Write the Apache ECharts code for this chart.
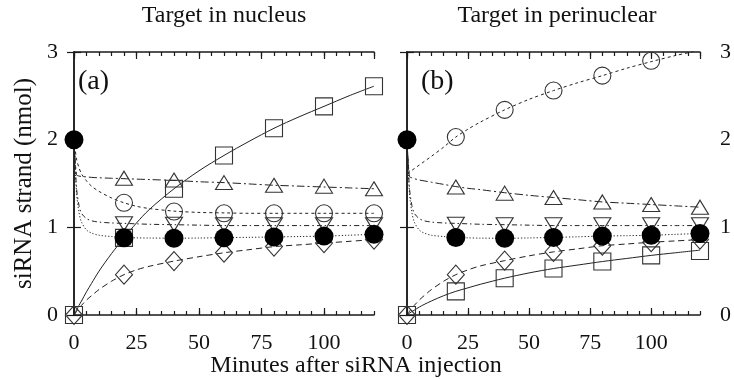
<!DOCTYPE html>
<html>
<head>
<meta charset="utf-8">
<script src="https://cdn.jsdelivr.net/npm/echarts@6/dist/echarts.min.js"></script>
<style>
  html, body { margin: 0; padding: 0; background: #fff; }
  #main { width: 734px; height: 379px; }
</style>
</head>
<body>
<div id="main"></div>
<script>
// minutes where the markers are drawn
var markT = [0, 20, 40, 60, 80, 100, 120];
var curveT = [0, 1, 2, 3, 5, 7, 10, 15, 20, 25, 30, 40, 50, 60, 70, 80, 90, 100, 110, 120];

var xTicks = [0, 25, 50, 75, 100];
var yTicks = [0, 1, 2, 3];

// (a) target in nucleus
var aSquare  = [0, 0.88, 1.44, 1.82, 2.13, 2.38, 2.61];
var aDiamond = [0, 0.46, 0.615, 0.71, 0.78, 0.82, 0.86];
var aCircle  = [null, 1.28, 1.18, 1.16, 1.16, 1.16, 1.16];
var aTri     = [null, 1.56, 1.54, 1.51, 1.48, 1.47, 1.44];
var aInv     = [null, 1.04, 1.035, 1.03, 1.03, 1.03, 1.03];
var aFilled  = [2, 0.88, 0.875, 0.88, 0.89, 0.9, 0.92];

var aSquareLine  = [0, 0.055, 0.11, 0.16, 0.265, 0.36, 0.5, 0.7, 0.88, 1.05, 1.2, 1.44, 1.645, 1.82, 1.98, 2.13, 2.26, 2.38, 2.5, 2.61];
var aDiamondLine = [0, 0.04, 0.08, 0.11, 0.17, 0.22, 0.29, 0.385, 0.46, 0.515, 0.555, 0.615, 0.665, 0.71, 0.745, 0.78, 0.8, 0.82, 0.84, 0.86];
var aCircleLine  = [2, 1.78, 1.68, 1.61, 1.53, 1.47, 1.41, 1.335, 1.28, 1.24, 1.215, 1.185, 1.17, 1.165, 1.16, 1.16, 1.16, 1.16, 1.16, 1.16];
var aTriLine     = [2, 1.6, 1.585, 1.58, 1.575, 1.57, 1.565, 1.56, 1.555, 1.55, 1.545, 1.535, 1.52, 1.51, 1.495, 1.48, 1.47, 1.46, 1.45, 1.44];
var aInvLine     = [2, 1.45, 1.25, 1.16, 1.1, 1.075, 1.06, 1.05, 1.045, 1.04, 1.035, 1.03, 1.025, 1.02, 1.02, 1.02, 1.02, 1.02, 1.02, 1.02];
var aFilledLine  = [2, 1.4, 1.17, 1.06, 0.97, 0.935, 0.91, 0.895, 0.885, 0.88, 0.878, 0.876, 0.878, 0.882, 0.886, 0.89, 0.895, 0.9, 0.91, 0.92];

// (b) target in perinuclear
var bSquare  = [0, 0.27, 0.42, 0.53, 0.61, 0.68, 0.73];
var bDiamond = [0, 0.46, 0.62, 0.72, 0.79, 0.83, 0.86];
var bCircle  = [null, 2.03, 2.34, 2.56, 2.73, 2.9, 3.02];
var bTri     = [null, 1.46, 1.39, 1.34, 1.29, 1.26, 1.23];
var bInv     = [null, 1.035, 1.03, 1.03, 1.03, 1.03, 1.03];
var bFilled  = [2, 0.885, 0.875, 0.885, 0.9, 0.91, 0.93];

var bSquareLine  = [0, 0.02, 0.04, 0.055, 0.09, 0.12, 0.16, 0.22, 0.27, 0.31, 0.35, 0.42, 0.48, 0.53, 0.57, 0.61, 0.645, 0.68, 0.71, 0.74];
var bDiamondLine = [0, 0.04, 0.08, 0.11, 0.17, 0.22, 0.29, 0.385, 0.46, 0.515, 0.56, 0.62, 0.675, 0.72, 0.755, 0.79, 0.81, 0.83, 0.845, 0.86];
var bCircleLine  = [2, 1.63, 1.65, 1.67, 1.71, 1.75, 1.81, 1.915, 2.03, 2.12, 2.2, 2.34, 2.46, 2.56, 2.65, 2.73, 2.815, 2.89, 2.96, 3.02];
var bTriLine     = [2, 1.58, 1.565, 1.555, 1.54, 1.53, 1.515, 1.49, 1.465, 1.445, 1.43, 1.395, 1.365, 1.34, 1.315, 1.29, 1.275, 1.26, 1.245, 1.23];
var bInvLine     = [2, 1.45, 1.25, 1.16, 1.1, 1.075, 1.06, 1.05, 1.045, 1.04, 1.035, 1.03, 1.025, 1.02, 1.02, 1.02, 1.02, 1.02, 1.02, 1.02];
var bFilledLine  = [2, 1.4, 1.17, 1.06, 0.97, 0.935, 0.91, 0.895, 0.885, 0.88, 0.877, 0.875, 0.879, 0.885, 0.892, 0.9, 0.905, 0.91, 0.92, 0.93];

var font = 'Liberation Serif';
var ink = '#1a1a1a';

var pair = function(ts, vs){
    var res = [];
    for (var i = 0; i < ts.length; i++) {
        if (vs[i] !== null) res.push([ts[i], vs[i]]);
    }
    return res;
};

// one panel = a frame made of 4 x axes (major/minor, bottom/top) and 2 y axes
var xAxes = [], yAxes = [], series = [];
var makePanel = function(g, leftLabels){
    var xBase = xAxes.length, yBase = yAxes.length;
    ['bottom', 'top'].forEach(function(pos){
        xAxes.push({
            gridIndex: g, type: 'value', position: pos, min: 0, max: 120, interval: 25,
            axisLine: { show: true, lineStyle: { color: ink, width: 1.5 } },
            axisTick: { show: true, inside: true, length: 7, lineStyle: { color: ink, width: 1.2 } },
            axisLabel: {
                show: pos == 'bottom', showMaxLabel: false, margin: 17,
                color: '#111', fontFamily: font, fontSize: 22,
                formatter: function(v){ return xTicks.indexOf(v) >= 0 ? String(v) : ''; }
            },
            splitLine: { show: false }
        });
        xAxes.push({
            gridIndex: g, type: 'value', position: pos, min: 0, max: 120, interval: 5,
            axisLine: { show: false },
            axisTick: { show: true, inside: true, length: 4, lineStyle: { color: ink, width: 1.2 } },
            axisLabel: { show: false },
            splitLine: { show: false }
        });
    });
    ['left', 'right'].forEach(function(pos){
        var showLab = (pos == 'left') == leftLabels;
        yAxes.push({
            gridIndex: g, type: 'value', position: pos, min: 0, max: 3, interval: 1,
            name: (g == 0 && pos == 'left') ? 'siRNA strand (nmol)' : '',
            nameLocation: 'middle', nameGap: 37,
            nameTextStyle: { color: '#111', fontFamily: font, fontSize: 25 },
            axisLine: { show: true, lineStyle: { color: ink, width: 1.5 } },
            axisTick: { show: true, inside: true, length: 7, lineStyle: { color: ink, width: 1.2 } },
            axisLabel: {
                show: showLab, margin: pos == 'left' ? 16 : 20, color: '#111', fontFamily: font, fontSize: 22,
                formatter: function(v){ return yTicks.indexOf(v) >= 0 ? String(v) : ''; }
            },
            splitLine: { show: false }
        });
    });
    return { x: xBase, y: yBase };
};

var addCurve = function(ax, vals, dash){
    series.push({
        type: 'line', xAxisIndex: ax.x, yAxisIndex: ax.y,
        data: pair(curveT, vals), showSymbol: false, symbol: 'none',
        smooth: 0.3, clip: true, silent: true, animation: false,
        lineStyle: { color: '#222', width: 1, type: dash, opacity: 1 },
        z: 2
    });
};
var addMarks = function(ax, vals, symbol, size, filled, rot){
    series.push({
        type: 'scatter', xAxisIndex: ax.x, yAxisIndex: ax.y,
        data: pair(markT, vals), symbol: symbol, symbolSize: size, symbolRotate: rot || 0,
        clip: true, silent: true, animation: false,
        itemStyle: {
            opacity: 1,
            color: filled ? '#000' : 'rgba(0,0,0,0)',
            borderColor: filled ? '#000' : '#333', borderWidth: filled ? 0 : 1.1
        },
        z: filled ? 6 : 5
    });
};

var panels = [
    { sq: aSquare, sqL: aSquareLine, di: aDiamond, diL: aDiamondLine, ci: aCircle, ciL: aCircleLine,
      tr: aTri, trL: aTriLine, iv: aInv, ivL: aInvLine, fi: aFilled, fiL: aFilledLine },
    { sq: bSquare, sqL: bSquareLine, di: bDiamond, diL: bDiamondLine, ci: bCircle, ciL: bCircleLine,
      tr: bTri, trL: bTriLine, iv: bInv, ivL: bInvLine, fi: bFilled, fiL: bFilledLine }
];

panels.forEach(function(p, g){
    var ax = makePanel(g, g == 0);
    addCurve(ax, p.sqL, 'solid');
    addCurve(ax, p.diL, [6, 4]);
    addCurve(ax, p.ciL, [3, 3]);
    addCurve(ax, p.trL, [8, 3, 2, 3]);
    addCurve(ax, p.ivL, [5, 3, 1.5, 3]);
    addCurve(ax, p.fiL, [1.2, 2]);
    addMarks(ax, p.sq, 'rect', 17, false);
    addMarks(ax, p.di, 'diamond', [17, 19], false);
    addMarks(ax, p.ci, 'circle', 17, false);
    addMarks(ax, p.tr, 'triangle', [17, 14], false);
    addMarks(ax, p.iv, 'triangle', [17, 14], false, 180);
    addMarks(ax, p.fi, 'circle', 19, true);
});

var myChart = echarts.init(document.getElementById('main'), null, { renderer: 'canvas' });
var option = {
    backgroundColor: '#fff',
    animation: false,
    grid: [
        { left: 74, top: 52, width: 300, height: 263 },
        { left: 407, top: 52, width: 302, height: 263 }
    ],
    xAxis: xAxes,
    yAxis: yAxes,
    series: series,
    graphic: [
        { type: 'text', x: 224, y: 4, style: { text: 'Target in nucleus', font: '24px "' + font + '"', fill: '#111', align: 'center' } },
        { type: 'text', x: 557, y: 4, style: { text: 'Target in perinuclear', font: '24px "' + font + '"', fill: '#111', align: 'center' } },
        { type: 'text', x: 78, y: 68, style: { text: '(a)', font: '28px "' + font + '"', fill: '#111' } },
        { type: 'text', x: 421, y: 68, style: { text: '(b)', font: '28px "' + font + '"', fill: '#111' } },
        { type: 'text', x: 356, y: 354, style: { text: 'Minutes after siRNA injection', font: '24px "' + font + '"', fill: '#111', align: 'center' } }
    ]
};
myChart.setOption(option);
</script>
</body>
</html>
